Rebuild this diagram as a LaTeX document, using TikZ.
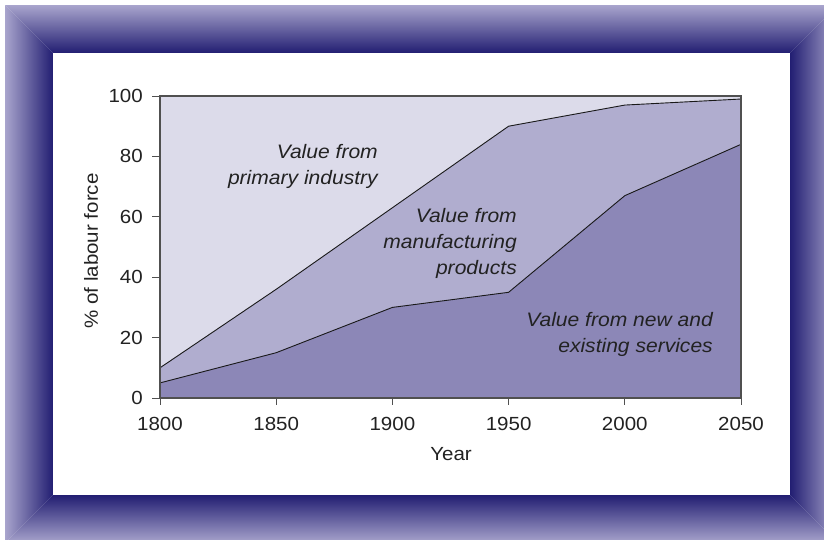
\documentclass[tikz,border=0pt]{standalone}
\usepackage{fontspec}
\setmainfont{Liberation Sans}[FakeStretch=1.08]
\usetikzlibrary{calc}
\usepackage{xcolor}

\definecolor{frameDark}{HTML}{221E72}
\definecolor{frameLight}{HTML}{A9A5CD}
\definecolor{areaTop}{HTML}{DCDBEA}
\definecolor{areaMid}{HTML}{B0ADCF}
\definecolor{areaLow}{HTML}{8C87B7}
\definecolor{axisGray}{HTML}{505050}
\definecolor{inkText}{HTML}{222222}

\tikzset{
  ticklabel/.style={inner sep=0pt, text=inkText, font=\fontsize{19}{22}\selectfont},
  arealabel/.style={inner sep=0pt, text=inkText, align=right, anchor=east,
    font=\fontsize{19.5}{26.3}\selectfont\itshape},
  dataline/.style={black!90, line width=0.9pt, line join=round}
}

\begin{document}
\begin{tikzpicture}[x=1pt, y=-1pt]
  \useasboundingbox (0,0) rectangle (824,539);

  % frame
  \begin{scope}
    \clip (0,0) rectangle (824,539);
    \shade[top color=frameLight, bottom color=frameDark] (5,5) -- (838,5) -- (790,53) -- (53,53) -- cycle;
    \shade[left color=frameLight, right color=frameDark] (5,5) -- (53,53) -- (53,495) -- (5,543) -- cycle;
    \shade[left color=frameDark, right color=frameLight] (838,5) -- (838,543) -- (790,495) -- (790,53) -- cycle;
    \shade[top color=frameDark, bottom color=frameLight] (5,543) -- (838,543) -- (790,495) -- (53,495) -- cycle;
    \fill[white] (53,53) rectangle (790,495);
  \end{scope}

  % chart
  \begin{scope}[shift={(160,398)}, x={(2.324pt,0pt)}, y={(0pt,3.02pt)}]
    \fill[areaTop] (0,0) rectangle (250,100);
    \fill[areaMid] (0,0) -- plot coordinates {(0,10) (50,36) (100,63) (150,90) (200,97) (250,99)} -- (250,0) -- cycle;
    \fill[areaLow] (0,0) -- plot coordinates {(0,5) (50,15) (100,30) (150,35) (200,67) (250,84)} -- (250,0) -- cycle;
    \draw[dataline] plot coordinates {(0,10) (50,36) (100,63) (150,90) (200,97) (250,99)};
    \draw[dataline] plot coordinates {(0,5) (50,15) (100,30) (150,35) (200,67) (250,84)};

    \draw[axisGray, line width=1.3pt] (0,0) rectangle (250,100);
    \foreach \p in {0,20,...,100} {
      \draw[axisGray, line width=1pt] (0,\p) -- ++(-8pt,0);
      \node[ticklabel, anchor=east] (ytick\p) at ($(0,\p)+(-17pt,0)$) {\p};
    }
    \foreach \yr in {0,50,...,250} {
      \draw[axisGray, line width=1pt] (\yr,0) -- ++(0,-7pt);
      \pgfmathtruncatemacro{\lbl}{1800+\yr}
      \node[ticklabel, anchor=base] (xtick\yr) at ($(\yr,0)+(0,-32pt)$) {\lbl};
    }
  \end{scope}

  \node[ticklabel, anchor=base] (xtitle) at (451,460) {Year};
  \node[ticklabel, rotate=90] (ytitle) at (91,251) {\% of labour force};

  \node[arealabel] (primary) at (378,166.8) {Value from\\primary industry};
  \node[arealabel] (manuf) at (517,243.6) {Value from\\manufacturing\\products};
  \node[arealabel] (services) at (713,334.6) {Value from new and\\existing services};
\end{tikzpicture}
\end{document}
